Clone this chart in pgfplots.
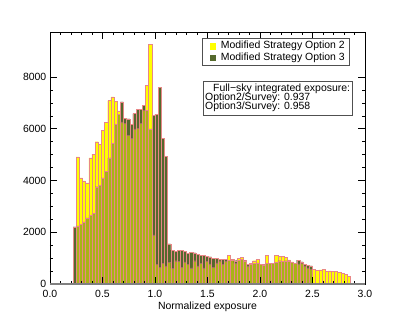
\documentclass[border=0pt]{standalone}
\usepackage{fontspec}
\setmainfont{Liberation Sans}
\usepackage{pgfplots}
\pgfplotsset{compat=1.18}

\definecolor{optyellow}{RGB}{255,255,0}
\definecolor{optgreen}{RGB}{85,105,45}
\definecolor{baredge}{RGB}{232,135,135}
\definecolor{boxgray}{RGB}{80,80,80}

% left bin edges (width 0.03); last row closes the final bin
\pgfplotstableread{
x y
0.25 4910
0.28 4100
0.31 3990
0.34 3910
0.37 4880
0.40 5020
0.43 5500
0.46 5390
0.49 5950
0.52 6240
0.55 7090
0.58 7230
0.61 7070
0.64 6690
0.67 6270
0.70 6200
0.73 5750
0.76 5620
0.79 6000
0.82 6010
0.85 6200
0.88 6720
0.91 7680
0.94 9270
0.97 1900
1.00 750
1.03 650
1.06 800
1.09 700
1.12 850
1.15 600
1.18 900
1.21 880
1.24 640
1.27 860
1.30 750
1.33 620
1.36 900
1.39 700
1.42 800
1.45 620
1.48 880
1.51 780
1.54 650
1.57 820
1.60 900
1.63 760
1.66 880
1.69 1110
1.72 950
1.75 800
1.78 980
1.81 1030
1.84 926
1.87 700
1.90 790
1.93 900
1.96 940
1.99 770
2.02 770
2.05 1120
2.08 810
2.11 810
2.14 1120
2.17 1080
2.20 1080
2.23 1030
2.26 930
2.29 860
2.32 810
2.35 780
2.38 800
2.41 700
2.44 620
2.47 570
2.50 570
2.53 540
2.56 550
2.59 560
2.62 500
2.65 510
2.68 490
2.71 490
2.74 450
2.77 420
2.80 380
2.83 300
2.86 0
}\optiontwo

\pgfplotstableread{
x y
0.22 2210
0.25 2250
0.28 2300
0.31 2400
0.34 2560
0.37 2660
0.40 2730
0.43 3760
0.46 3820
0.49 4100
0.52 4360
0.55 4880
0.58 5430
0.61 6160
0.64 6550
0.67 7040
0.70 6400
0.73 6380
0.76 6160
0.79 6590
0.82 6750
0.85 6750
0.88 6910
0.91 6720
0.94 6000
0.97 6520
1.00 6550
1.03 7600
1.06 5620
1.09 4930
1.12 1550
1.15 1310
1.18 1250
1.21 1300
1.24 1290
1.27 1250
1.30 1190
1.33 1220
1.36 1200
1.39 1150
1.42 1120
1.45 1120
1.48 1060
1.51 1050
1.54 1000
1.57 990
1.60 960
1.63 950
1.66 960
1.69 920
1.72 930
1.75 900
1.78 920
1.81 960
1.84 900
1.87 772
1.90 760
1.93 800
1.96 820
1.99 760
2.02 740
2.05 800
2.08 790
2.11 800
2.14 850
2.17 900
2.20 880
2.23 900
2.26 880
2.29 850
2.32 800
2.35 926
2.38 860
2.41 772
2.44 733
2.47 700
2.50 0
}\optionthree

\begin{document}
\fontsize{10.5}{12}\selectfont
\begin{tikzpicture}[font=\fontsize{10.5}{12}\selectfont]
\path[use as bounding box] (-50bp,-40bp) rectangle (356bp,284bp);
\begin{axis}[
  at={(0,0)}, anchor=south west,
  scale only axis,
  width=315bp, height=251.7bp,
  xmin=0, xmax=3,
  ymin=0, ymax=9730,
  xtick={0,0.5,1,1.5,2,2.5,3},
  minor x tick num=4,
  ytick={0,2000,4000,6000,8000},
  minor y tick num=3,
  tick align=inside,
  major tick length=6.5bp,
  minor tick length=3bp,
  /pgf/number format/assume math mode=true,
  xticklabel style={/pgf/number format/fixed, /pgf/number format/fixed zerofill,
    /pgf/number format/precision=1, anchor=base, yshift=-13bp},
  yticklabel style={/pgf/number format/set thousands separator={}},
  scaled y ticks=false,
  xlabel={Normalized exposure},
  xlabel style={at={(axis description cs:0.5,0)}, anchor=base, yshift=-25bp, inner sep=0pt},
  axis line style={black, line width=0.8bp},
  tick style={black, line width=0.7bp},
  axis on top,
]
% option 3 underlay, option 2, option 3 half-transparent on top
\addplot[ybar interval, fill=optgreen, draw=none] table {\optionthree};
\addplot[ybar interval, fill=optyellow, draw=baredge, line width=0.4bp] table {\optiontwo};
\addplot[ybar interval, fill=optgreen, fill opacity=0.5, draw=baredge, line width=0.4bp] table {\optionthree};
\end{axis}

\draw[gray, line width=1.6bp] (0,0) -- (315bp,0);

% legend
\draw[boxgray, line width=0.6bp] (152.7bp,245.7bp) rectangle (299.3bp,219bp);
\fill[optyellow] (160bp,234bp) rectangle (166bp,240.5bp);
\fill[optgreen] (160bp,222.5bp) rectangle (166bp,229bp);
\node[anchor=base west, inner sep=0pt] at (170.7bp,235.5bp) {Modified Strategy Option 2};
\node[anchor=base west, inner sep=0pt] at (170.7bp,223.7bp) {Modified Strategy Option 3};

% integrated exposure box
\draw[boxgray, line width=0.6bp] (153bp,203bp) rectangle (302bp,169bp);
\node[anchor=base west, inner sep=0pt] at (163bp,192.4bp) {Full−sky integrated exposure:};
\node[anchor=base west, inner sep=0pt] at (155bp,183.3bp) {Option2/Survey: 0.937};
\node[anchor=base west, inner sep=0pt] at (155bp,174bp) {Option3/Survey: 0.958};
\end{tikzpicture}
\end{document}
